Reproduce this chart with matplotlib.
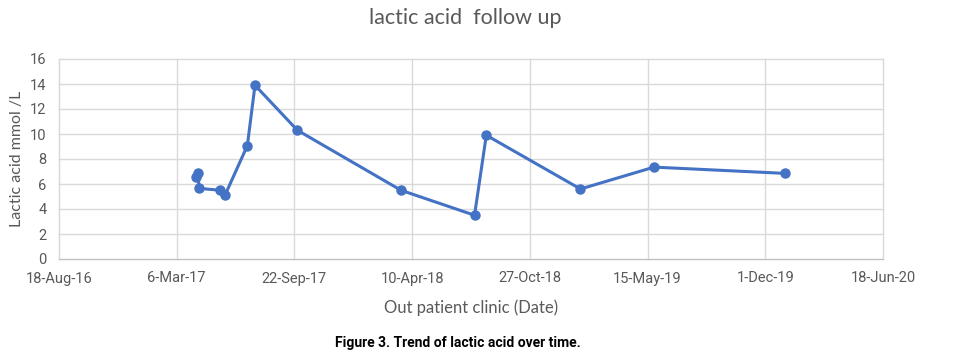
import matplotlib
matplotlib.use("Agg")
import matplotlib.pyplot as plt
import datetime as dt

dates = ["2017-04-07", "2017-04-11", "2017-04-13", "2017-05-19", "2017-05-27",
         "2017-07-04", "2017-07-17", "2017-09-27", "2018-03-22", "2018-07-25",
         "2018-08-14", "2019-01-21", "2019-05-26", "2020-01-03"]
lactate = [6.6, 6.9, 5.65, 5.5, 5.1, 9.07, 13.9, 10.3, 5.5, 3.5, 9.9, 5.6, 7.35, 6.85]
y_ticks = [0, 2, 4, 6, 8, 10, 12, 14, 16]
start = dt.date(2016, 8, 18)
tick_step_days = 200
n_ticks = 8

x = [dt.datetime.strptime(d, "%Y-%m-%d").date() for d in dates]
xticks = [start + dt.timedelta(days=tick_step_days * i) for i in range(n_ticks)]

narrow = ["Roboto", "DejaVu Sans"]
soft = ["Lato", "DejaVu Sans"]
fig = plt.figure(figsize=(9.57, 3.6), dpi=100)
ax = fig.add_axes([59/957, 1 - 259/360, (883 - 59)/957, 200/360])

gray = "#595959"
grid = "#d9d9d9"
ax.plot(x, lactate, color="#4472c4", lw=2.2, marker="o", ms=6.5, zorder=3)
ax.set_xlim(xticks[0], xticks[-1])
ax.set_ylim(0, 16)
ax.set_yticks(y_ticks)
ax.set_xticks(xticks)
ax.set_xticklabels([d.strftime("%-d-%b-%y") for d in xticks])
ax.grid(True, color=grid, lw=1, clip_on=False)
for s in ["top", "right"]:
    ax.spines[s].set_visible(False)
ax.spines["left"].set_color(grid)
ax.spines["bottom"].set_color("#bfbfbf")
ax.tick_params(length=0, colors=gray, labelsize=10.5, pad=9)
for lab in ax.get_xticklabels() + ax.get_yticklabels():
    lab.set_family(narrow)
ax.set_axisbelow(True)

ax.set_ylabel("Lactic acid mmol /L", color=gray, fontsize=11.5, labelpad=4,
              family=soft)
ax.set_xlabel("Out patient clinic (Date)", color=gray, fontsize=12, labelpad=10,
              family=soft)
fig.text(0.486, 0.95, "lactic acid  follow up", ha="center", va="center",
         color=gray, fontsize=15.5, family=soft)
fig.text(0.478, 0.047, "Figure 3. Trend of lactic acid over time.", ha="center",
         va="center", color="black", fontsize=10, fontweight="bold",
         family=narrow)

fig.savefig("out.png", dpi=100)
